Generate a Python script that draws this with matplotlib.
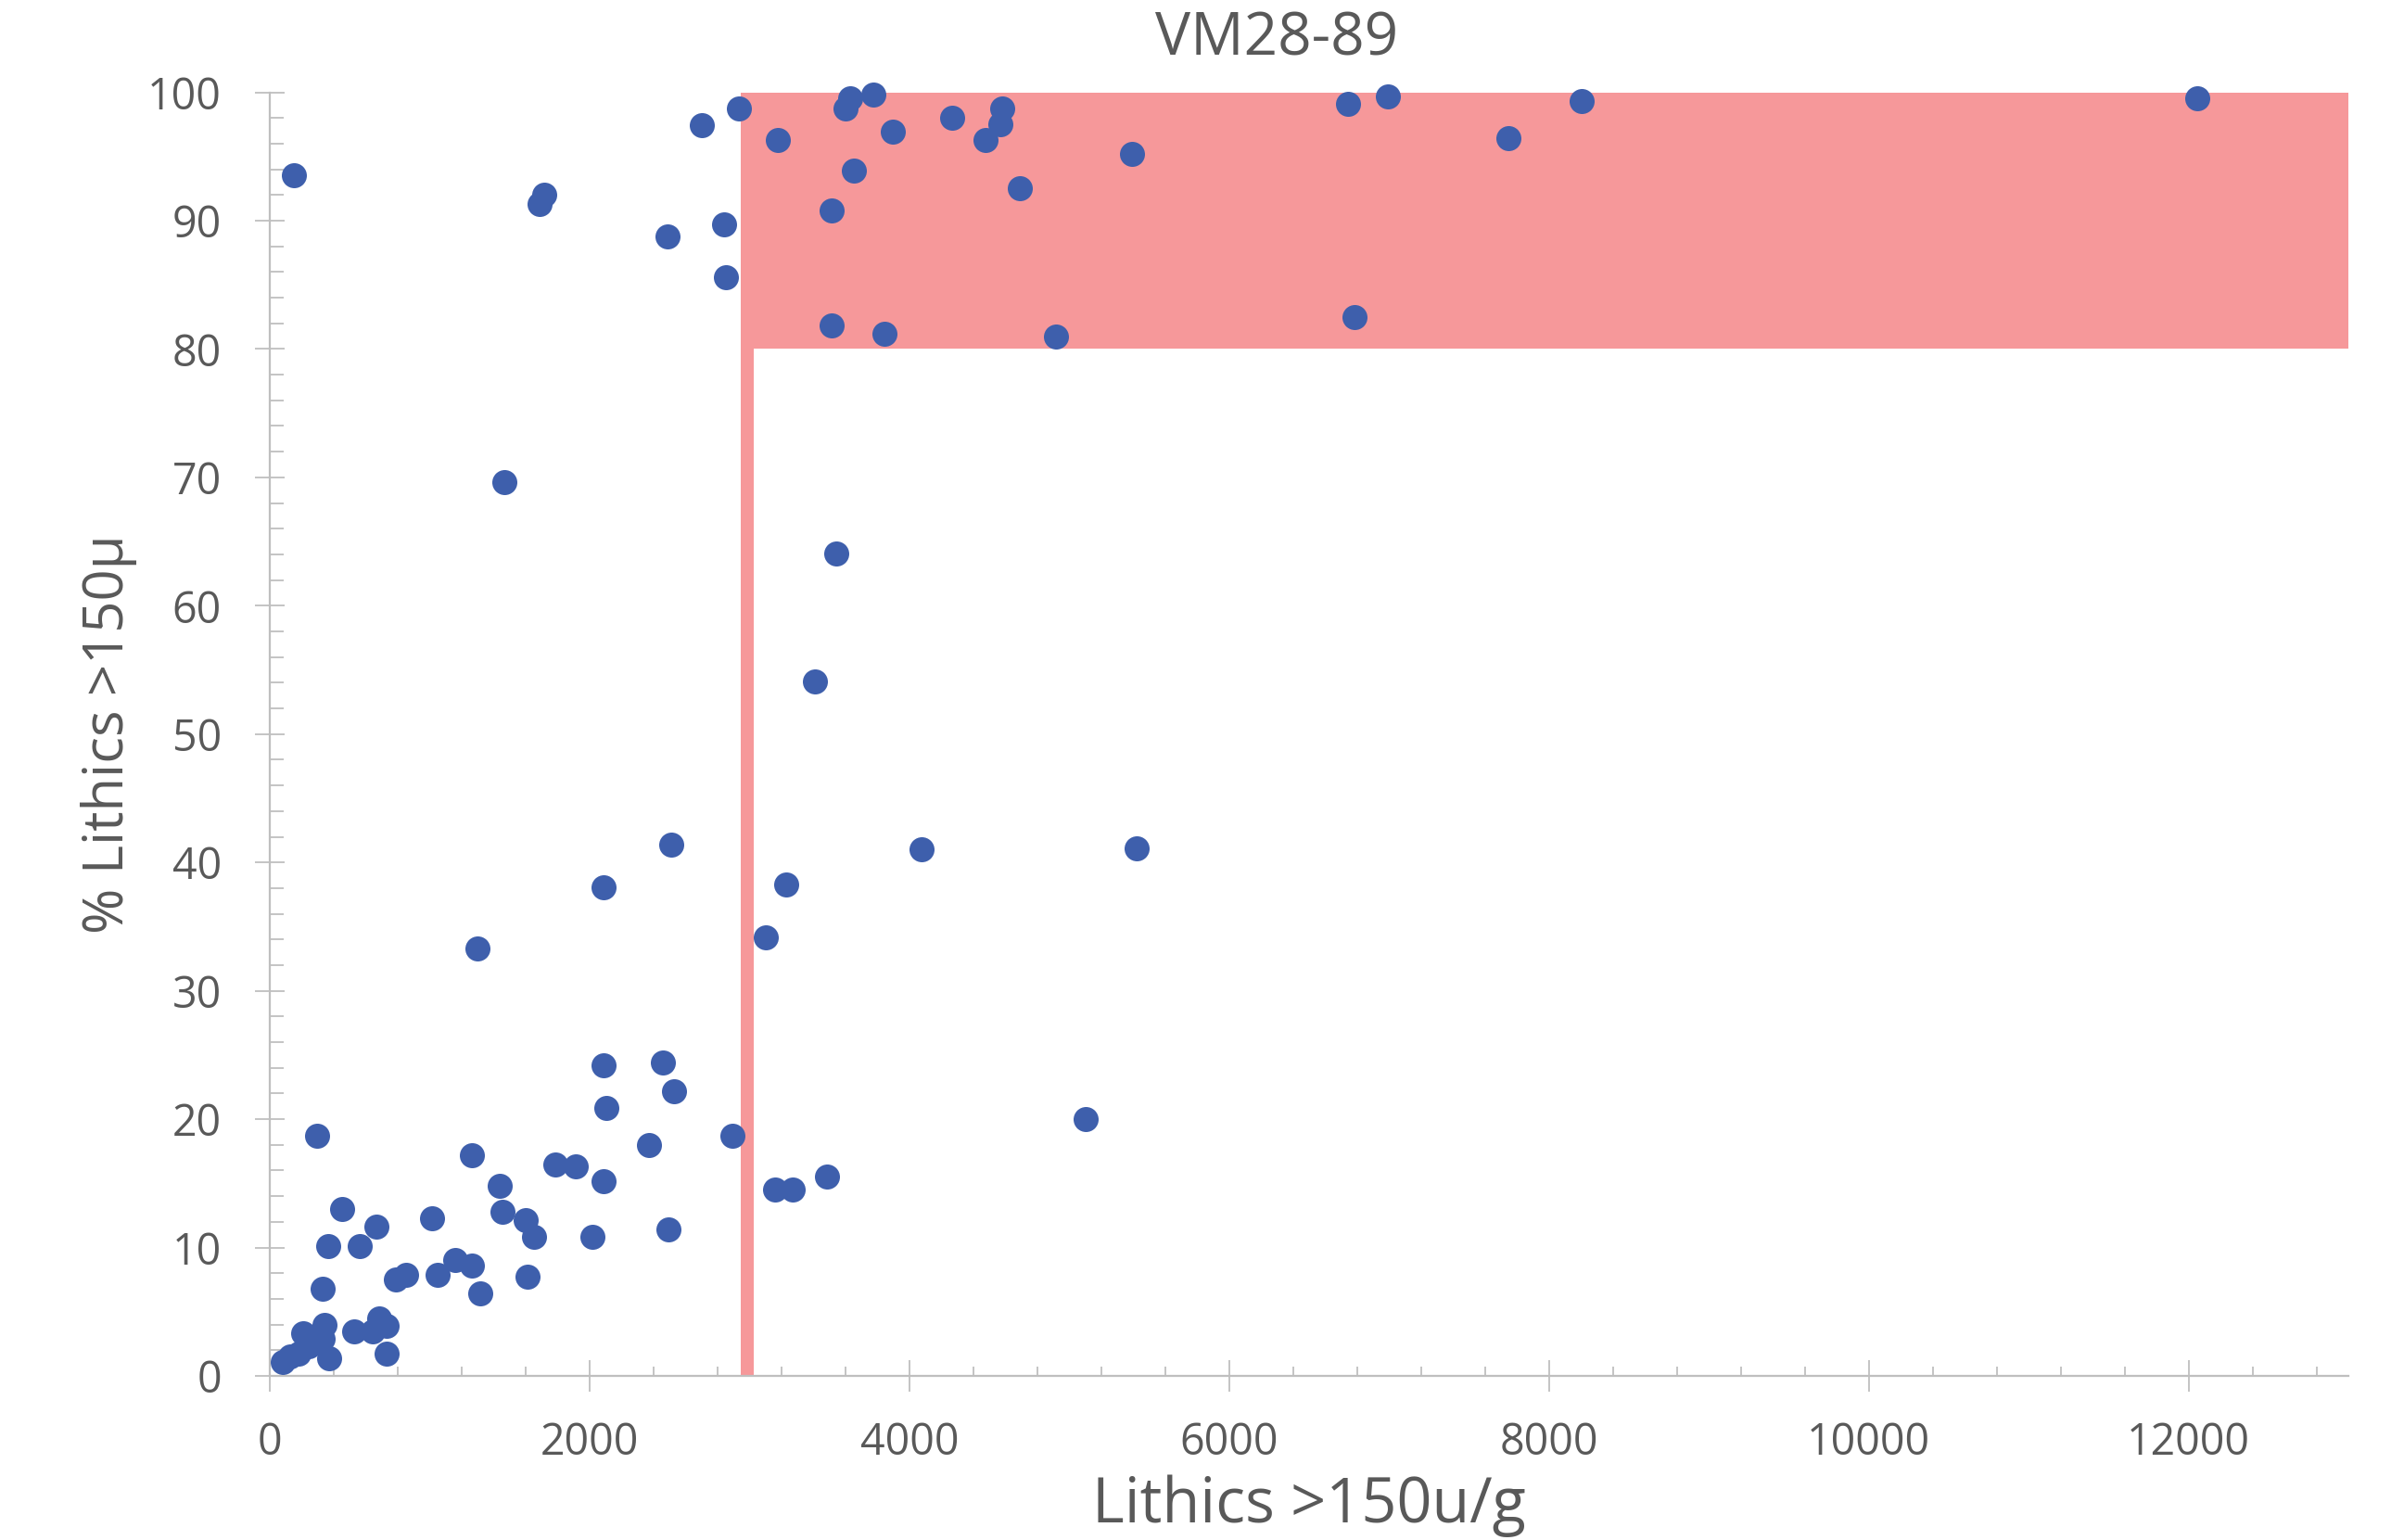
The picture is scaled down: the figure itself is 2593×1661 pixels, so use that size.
import matplotlib
matplotlib.use("Agg")
import matplotlib.pyplot as plt
from matplotlib.patches import Rectangle
from matplotlib.ticker import MultipleLocator

# ---- data ----
lithics_per_g = [
    153, 2700, 2935, 3179, 3600, 3630, 3774, 3899, 3651, 3511, 3511, 3847,
    4268, 4582, 4567, 4479, 4689, 4918, 5390, 6746, 6993, 6782, 7745, 8204,
    12052, 2489, 2844, 2853, 1685, 1714,
    1465, 3543, 3407, 2511, 4075, 5419, 2089, 3228, 3105, 1297, 5103,
    297, 2090, 2459, 2528, 2107, 2370, 2896, 1263, 1788, 1912, 2090, 3162,
    3268, 3485, 1440, 1458, 1598, 1651, 2016, 2493, 1013, 665, 454, 368,
    561, 853, 787, 1052, 1159, 1263, 1613, 1316, 332, 342, 525, 685, 728,
    641, 728, 370, 207, 332, 245, 178, 129, 81,
]
pct_lithics = [
    93.5, 97.4, 98.7, 96.3, 98.7, 99.5, 99.8, 96.9, 93.9, 90.8, 81.8, 81.2,
    98.0, 98.7, 97.5, 96.3, 92.5, 81.0, 95.2, 99.1, 99.7, 82.5, 96.4, 99.3,
    99.5, 88.8, 89.7, 85.6, 91.3, 92.0,
    69.6, 64.1, 54.1, 41.4, 41.0, 41.1, 38.1, 38.3, 34.2, 33.3, 20.0,
    18.7, 24.2, 24.4, 22.2, 20.9, 18.0, 18.7, 17.2, 16.5, 16.3, 15.2, 14.5,
    14.5, 15.5, 14.8, 12.8, 12.1, 10.8, 10.8, 11.4, 12.3, 11.6, 13.0, 10.1,
    10.1, 7.9, 7.5, 7.9, 9.0, 8.6, 7.7, 6.4, 6.8, 4.0, 3.5, 4.5, 3.9,
    3.5, 1.7, 1.4, 3.3, 2.9, 2.3, 1.7, 1.5, 1.1,
]

# highlighted region (thresholds)
region_x_start = 2946
region_x_end = 13000
region_y_low = 80
region_y_high = 100
bar_center = 2987
bar_width = 80
bar_height = 80

x_ticks = [0, 2000, 4000, 6000, 8000, 10000, 12000]
y_ticks = [0, 10, 20, 30, 40, 50, 60, 70, 80, 90, 100]

title = "VM28-89"
x_label = "Lithics >150u/g"
y_label = "% Lithics >150\u03bc"

# ---- style ----
plt.rcParams["font.family"] = ["Open Sans", "DejaVu Sans"]
TEXT = "#595959"
AXIS = "#BFBFBF"
BLUE = "#3E5FAC"
PINK = "#F6989A"

W, H = 2593, 1661
fig = plt.figure(figsize=(W / 100, H / 100), dpi=100)
ax = fig.add_axes([291 / W, 1 - 1484 / H, (2533 - 291) / W, (1484 - 99.5) / H])
ax.set_xlim(0, 13000)
ax.set_ylim(0, 100)

ax.add_patch(Rectangle((region_x_start, region_y_low),
                       region_x_end - region_x_start,
                       region_y_high - region_y_low,
                       facecolor=PINK, edgecolor="none", zorder=1))
ax.bar([bar_center], [bar_height], width=bar_width, color=PINK,
       linewidth=0, zorder=1)

ax.scatter(lithics_per_g, pct_lithics, s=378, color=BLUE, linewidths=0,
           zorder=3, clip_on=False)

for side in ("top", "right"):
    ax.spines[side].set_visible(False)
for side in ("left", "bottom"):
    ax.spines[side].set_color(AXIS)
    ax.spines[side].set_linewidth(1.6)

ax.set_xticks(x_ticks)
ax.set_yticks(y_ticks)
ax.xaxis.set_minor_locator(MultipleLocator(400))
ax.yaxis.set_minor_locator(MultipleLocator(2))

ax.tick_params(axis="x", which="major", direction="inout", length=25,
               width=1.3, color=AXIS, labelsize=33.5, labelcolor=TEXT, pad=22.5)
ax.tick_params(axis="x", which="minor", direction="in", length=7.5,
               width=1.3, color=AXIS)
ax.tick_params(axis="y", which="major", direction="inout", length=23,
               width=1.3, color=AXIS, labelsize=33.5, labelcolor=TEXT, pad=26)
ax.tick_params(axis="y", which="minor", direction="in", length=10.8,
               width=1.3, color=AXIS)

fig.text(1377 / W, 1 - 60 / H, title, ha="center", va="baseline",
         fontsize=46, color=TEXT)
fig.text(1412 / W, 1 - 1642 / H, x_label, ha="center", va="baseline",
         fontsize=48, color=TEXT)
fig.text(118 / W, 1 - 792 / H, y_label, ha="center", va="center",
         rotation=90, fontsize=43, color=TEXT)

fig.savefig("out.png", dpi=100)
